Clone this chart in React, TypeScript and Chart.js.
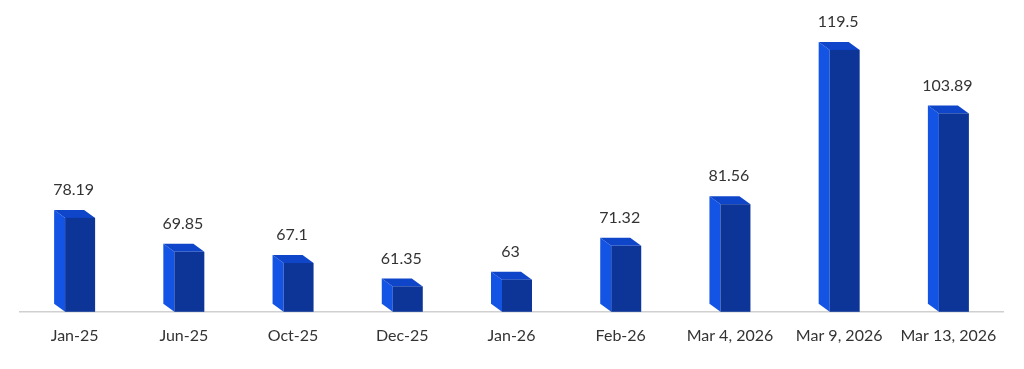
import React, { useEffect, useRef } from "react";
import { Chart, registerables } from "chart.js";

Chart.register(...registerables);

const categories = ["Jan-25", "Jun-25", "Oct-25", "Dec-25", "Jan-26", "Feb-26", "Mar 4, 2026", "Mar 9, 2026", "Mar 13, 2026"];
const values = [78.19, 69.85, 67.1, 61.35, 63, 71.32, 81.56, 119.5, 103.89];
const valueLabels = ["78.19", "69.85", "67.1", "61.35", "63", "71.32", "81.56", "119.5", "103.89"];

const FRONT = "#0c3597";
const SIDE = "#1454e4";
const TOP = "#0f46c9";
const DEPTH_X = 11;
const DEPTH_Y = 8;

const bar3d = {
  id: "bar3d",
  afterDatasetsDraw(chart: any) {
    const ctx = chart.ctx;
    const meta = chart.getDatasetMeta(0);
    const bottom = chart.chartArea.bottom;
    ctx.save();
    meta.data.forEach((el: any, i: number) => {
      const { x, y, width } = el.getProps(["x", "y", "width"], true);
      const base = bottom;
      const l = x - width / 2;
      const r = x + width / 2;
      const fl = l + DEPTH_X;
      // side face
      ctx.fillStyle = SIDE;
      ctx.beginPath();
      ctx.moveTo(l, y - DEPTH_Y);
      ctx.lineTo(fl, y);
      ctx.lineTo(fl, base);
      ctx.lineTo(l, base - DEPTH_Y);
      ctx.closePath();
      ctx.fill();
      // top face
      ctx.fillStyle = TOP;
      ctx.beginPath();
      ctx.moveTo(l, y - DEPTH_Y);
      ctx.lineTo(r - DEPTH_X, y - DEPTH_Y);
      ctx.lineTo(r, y);
      ctx.lineTo(fl, y);
      ctx.closePath();
      ctx.fill();
      // front face
      ctx.fillStyle = FRONT;
      ctx.fillRect(fl, y, r - fl, base - y);
      // value label
      ctx.fillStyle = "#333333";
      ctx.font = "16px Lato";
      ctx.textAlign = "center";
      ctx.textBaseline = "middle";
      ctx.fillText(valueLabels[i], x - 1, y - 28);
    });
    ctx.restore();
  },
};

export default function App() {
  const ref = useRef<HTMLCanvasElement | null>(null);
  useEffect(() => {
    document.body.style.margin = "0";
    if (!ref.current) return;
    const chart = new Chart(ref.current, {
      type: "bar",
      data: {
        labels: categories,
        datasets: [
          {
            data: values,
            backgroundColor: "rgba(0,0,0,0)",
            borderWidth: 0,
            barThickness: 41,
          },
        ],
      },
      options: {
        responsive: false,
        animation: false,
        layout: { padding: { left: 20, right: 21, top: 30, bottom: 10 } },
        plugins: { legend: { display: false }, tooltip: { enabled: false } },
        scales: {
          x: {
            grid: { display: false, drawTicks: false },
            border: { display: true, color: "#d0d0d0", width: 1.5 },
            ticks: { padding: 14, color: "#333333", font: { family: "Lato", size: 16 } },
          },
          y: {
            display: false,
            min: 55.1,
            max: 124.4,
          },
        },
      },
      plugins: [bar3d],
    });
    return () => chart.destroy();
  }, []);
  return (
    <div style={{ width: 1024, height: 369, background: "#ffffff" }}>
      <canvas ref={ref} width={1024} height={369} />
    </div>
  );
}
